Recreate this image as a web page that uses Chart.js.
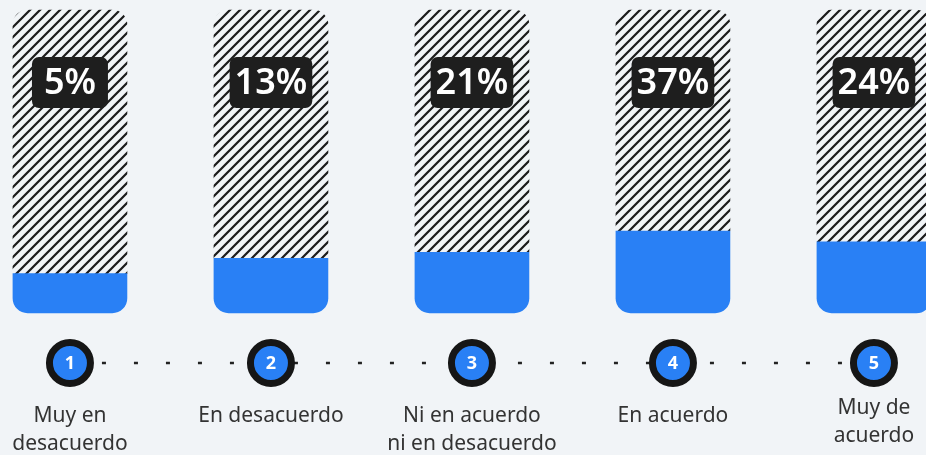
<!DOCTYPE html>
<html>
<head>
<meta charset="utf-8">
<script src="https://cdn.jsdelivr.net/npm/chart.js@4"></script>
<style>
  html, body { margin: 0; padding: 0; background: #f1f4f7; }
  #wrap { width: 926px; height: 455px; position: relative; }
</style>
</head>
<body>
<div id="wrap"><canvas id="chart"></canvas></div>
<script>
// data
const categories = [
    ["Muy en", "desacuerdo"],
    ["En desacuerdo"],
    ["Ni en acuerdo", "ni en desacuerdo"],
    ["En acuerdo"],
    ["Muy de", "acuerdo"]
];
const steps = ["1", "2", "3", "4", "5"];
const percentages = [5, 13, 21, 37, 24];
const fillLevels = [13, 18, 20, 27, 23.5];   // height of the blue part, out of 100
const fullLevel = 100;
const timelineLevel = -16.5;

const BLUE = '#2980f5';
const DARK = '#1e1e1e';

function hatchPattern() {
    const c = document.createElement('canvas');
    c.width = 10; c.height = 10;
    const g = c.getContext('2d');
    g.strokeStyle = '#1a1a1a';
    g.lineWidth = 2.2;
    g.beginPath();
    g.moveTo(-5, 5); g.lineTo(5, -5);
    g.moveTo(0, 10); g.lineTo(10, 0);
    g.moveTo(5, 15); g.lineTo(15, 5);
    g.stroke();
    return document.createElement('canvas').getContext('2d').createPattern(c, 'repeat');
}

function roundRect(ctx, x, y, w, h, r) {
    ctx.beginPath();
    ctx.moveTo(x + r, y);
    ctx.arcTo(x + w, y, x + w, y + h, r);
    ctx.arcTo(x + w, y + h, x, y + h, r);
    ctx.arcTo(x, y + h, x, y, r);
    ctx.arcTo(x, y, x + w, y, r);
    ctx.closePath();
}

const textPlugin = {
    id: 'texts',
    afterDatasetsDraw(chart) {
        const ctx = chart.ctx;
        const xs = chart.scales.x, ys = chart.scales.y;
        ctx.save();
        ctx.textAlign = 'center';
        ctx.textBaseline = 'middle';
        percentages.forEach((p, i) => {
            const cx = xs.getPixelForValue(i);
            // percent box
            const top = ys.getPixelForValue(fullLevel);
            ctx.font = '600 36px "Noto Sans"';
            const txt = p + '%';
            const w = Math.max(76, ctx.measureText(txt).width + 10);
            const h = 51;
            const by = top + 47;
            ctx.fillStyle = DARK;
            roundRect(ctx, cx - w / 2, by, w, h, 7);
            ctx.fill();
            ctx.fillStyle = '#ffffff';
            ctx.fillText(txt, cx, by + h / 2 + 1);

            // step number
            const cy = ys.getPixelForValue(timelineLevel);
            ctx.font = 'bold 18px "Noto Sans"';
            ctx.fillStyle = '#ffffff';
            ctx.fillText(steps[i], cx, cy + 1);

            // category label
            const lift = i === categories.length - 1 ? -8 : 0;
            ctx.font = '21px "Noto Sans"';
            ctx.fillStyle = '#333333';
            categories[i].forEach((line, j) => {
                ctx.fillText(line, cx, cy + 53 + lift + j * 28);
            });
        });
        ctx.restore();
    }
};

const xs = percentages.map((_, i) => i);

new Chart(document.getElementById('chart'), {
    type: 'bar',
    data: {
        datasets: [
            {
                label: 'rest',
                data: xs.map(i => ({ x: i, y: [fillLevels[i], fullLevel] })),
                backgroundColor: hatchPattern(),
                borderRadius: { topLeft: 15, topRight: 15, bottomLeft: 0, bottomRight: 0 },
                borderSkipped: false,
                barThickness: 114,
                grouped: false,
                order: 4
            },
            {
                label: 'fill',
                data: xs.map(i => ({ x: i, y: fillLevels[i] })),
                backgroundColor: BLUE,
                borderRadius: { topLeft: 0, topRight: 0, bottomLeft: 15, bottomRight: 15 },
                borderSkipped: false,
                barThickness: 114,
                grouped: false,
                order: 3
            },
            {
                type: 'line',
                label: 'timeline',
                data: xs.map(i => ({ x: i, y: timelineLevel })),
                borderColor: '#222222',
                borderWidth: 2.5,
                borderDash: [4, 28],
                pointRadius: 0,
                order: 2
            },
            {
                type: 'line',
                label: 'steps',
                data: xs.map(i => ({ x: i, y: timelineLevel })),
                showLine: false,
                pointRadius: 20.5,
                pointBorderWidth: 7,
                pointBackgroundColor: BLUE,
                pointBorderColor: '#161616',
                order: 1
            }
        ]
    },
    options: {
        responsive: true,
        maintainAspectRatio: false,
        animation: false,
        layout: { padding: 0, autoPadding: false },
        scales: {
            x: { type: 'linear', display: false, offset: false, min: -0.348, max: 4.259 },
            y: { display: false, min: -46.9, max: 103.3 }
        },
        plugins: {
            legend: { display: false },
            tooltip: { enabled: false }
        }
    },
    plugins: [textPlugin]
});
</script>
</body>
</html>
